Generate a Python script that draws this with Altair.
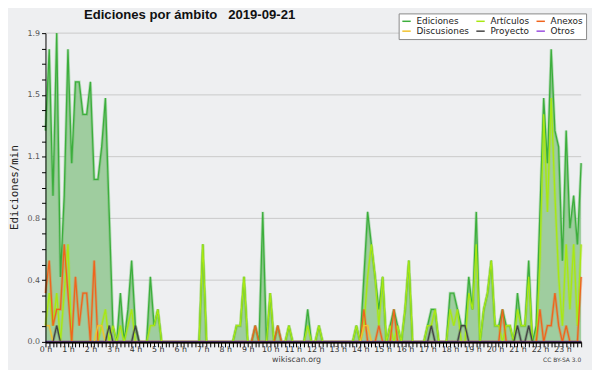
import altair as alt
import pandas as pd

# 10-minute slots of the day (0 = 00:00, 143 = 23:50)
slots = list(range(144))

ediciones = [
    1.3, 1.8, 0.9, 1.9, 0.4, 0.9,   # 0 h
    1.8, 1.1, 1.6, 1.6, 1.4, 1.4,   # 1 h
    1.6, 1.0, 1.0, 1.2, 1.5, 0.8,   # 2 h
    0.1, 0.0, 0.3, 0.0, 0.2, 0.5,   # 3 h
    0.1, 0.0, 0.0, 0.0, 0.4, 0.1,   # 4 h
    0.2, 0.0, 0.0, 0.0, 0.0, 0.0,   # 5 h
    0.0, 0.0, 0.0, 0.0, 0.0, 0.0,   # 6 h
    0.6, 0.0, 0.0, 0.0, 0.0, 0.0,   # 7 h
    0.0, 0.0, 0.0, 0.1, 0.1, 0.4,   # 8 h
    0.0, 0.0, 0.1, 0.0, 0.8, 0.0,   # 9 h
    0.3, 0.0, 0.1, 0.0, 0.0, 0.1,   # 10 h
    0.0, 0.0, 0.0, 0.0, 0.2, 0.0,   # 11 h
    0.0, 0.1, 0.0, 0.0, 0.0, 0.0,   # 12 h
    0.0, 0.0, 0.0, 0.0, 0.0, 0.1,   # 13 h
    0.0, 0.4, 0.8, 0.6, 0.4, 0.2,   # 14 h
    0.4, 0.0, 0.1, 0.2, 0.1, 0.0,   # 15 h
    0.2, 0.5, 0.0, 0.0, 0.0, 0.0,   # 16 h
    0.1, 0.2, 0.2, 0.0, 0.0, 0.0,   # 17 h
    0.3, 0.3, 0.2, 0.1, 0.1, 0.4,   # 18 h
    0.2, 0.8, 0.0, 0.2, 0.3, 0.5,   # 19 h
    0.1, 0.1, 0.2, 0.1, 0.1, 0.0,   # 20 h
    0.3, 0.1, 0.1, 0.5, 0.0, 0.1,   # 21 h
    0.8, 1.5, 1.1, 1.8, 1.3, 1.2,   # 22 h
    0.5, 1.3, 0.7, 0.9, 0.6, 1.1,   # 23 h
]

articulos = [
    0.1, 0.3, 0.1, 0.3, 0.0, 0.3,
    0.6, 0.0, 0.0, 0.0, 0.0, 0.0,
    0.0, 0.0, 0.0, 0.1, 0.2, 0.0,
    0.1, 0.0, 0.1, 0.0, 0.1, 0.2,
    0.0, 0.0, 0.0, 0.0, 0.1, 0.1,
    0.2, 0.0, 0.0, 0.0, 0.0, 0.0,
    0.0, 0.0, 0.0, 0.0, 0.0, 0.0,
    0.6, 0.0, 0.0, 0.0, 0.0, 0.0,
    0.0, 0.0, 0.0, 0.1, 0.1, 0.4,
    0.0, 0.0, 0.0, 0.0, 0.0, 0.0,
    0.3, 0.0, 0.0, 0.0, 0.0, 0.1,
    0.0, 0.0, 0.0, 0.0, 0.1, 0.0,
    0.0, 0.1, 0.0, 0.0, 0.0, 0.0,
    0.0, 0.0, 0.0, 0.0, 0.0, 0.1,
    0.0, 0.1, 0.4, 0.6, 0.4, 0.1,
    0.4, 0.0, 0.1, 0.0, 0.1, 0.0,
    0.2, 0.5, 0.0, 0.0, 0.0, 0.0,
    0.1, 0.1, 0.2, 0.0, 0.0, 0.0,
    0.2, 0.1, 0.2, 0.0, 0.0, 0.3,
    0.2, 0.6, 0.0, 0.2, 0.3, 0.5,
    0.1, 0.1, 0.0, 0.1, 0.1, 0.0,
    0.2, 0.1, 0.1, 0.4, 0.0, 0.0,
    0.5, 1.4, 0.8, 1.5, 0.9, 0.4,
    0.1, 0.6, 0.2, 0.6, 0.1, 0.6,
]

anexos = [
    0.3, 0.5, 0.1, 0.2, 0.2, 0.6,
    0.3, 0.0, 0.4, 0.1, 0.3, 0.3,
    0.0, 0.5, 0.0, 0.0, 0.0, 0.0,
    0.0, 0.0, 0.0, 0.0, 0.0, 0.0,
    0.0, 0.0, 0.0, 0.0, 0.0, 0.0,
    0.0, 0.0, 0.0, 0.0, 0.0, 0.0,
    0.0, 0.0, 0.0, 0.0, 0.0, 0.0,
    0.0, 0.0, 0.0, 0.0, 0.0, 0.0,
    0.0, 0.0, 0.0, 0.0, 0.0, 0.0,
    0.0, 0.0, 0.1, 0.0, 0.0, 0.0,
    0.0, 0.0, 0.1, 0.0, 0.0, 0.0,
    0.0, 0.0, 0.0, 0.0, 0.0, 0.0,
    0.0, 0.0, 0.0, 0.0, 0.0, 0.0,
    0.0, 0.0, 0.0, 0.0, 0.0, 0.0,
    0.0, 0.2, 0.0, 0.0, 0.0, 0.1,
    0.0, 0.0, 0.0, 0.2, 0.0, 0.0,
    0.0, 0.0, 0.0, 0.0, 0.0, 0.0,
    0.0, 0.0, 0.0, 0.0, 0.0, 0.0,
    0.0, 0.0, 0.0, 0.0, 0.0, 0.0,
    0.0, 0.0, 0.0, 0.0, 0.0, 0.0,
    0.0, 0.0, 0.2, 0.0, 0.0, 0.0,
    0.0, 0.0, 0.0, 0.0, 0.0, 0.0,
    0.2, 0.0, 0.1, 0.1, 0.3, 0.1,
    0.0, 0.1, 0.0, 0.0, 0.0, 0.4,
]

discusiones = [
    0.1, 0.1, 0.0, 0.0, 0.0, 0.0,
    0.0, 0.0, 0.0, 0.0, 0.0, 0.0,
    0.0, 0.0, 0.1, 0.1, 0.0, 0.0,
    0.0, 0.0, 0.0, 0.0, 0.0, 0.0,
    0.0, 0.0, 0.0, 0.0, 0.0, 0.0,
    0.0, 0.0, 0.0, 0.0, 0.0, 0.0,
    0.0, 0.0, 0.0, 0.0, 0.0, 0.0,
    0.0, 0.0, 0.0, 0.0, 0.0, 0.0,
    0.0, 0.0, 0.0, 0.0, 0.0, 0.0,
    0.0, 0.0, 0.0, 0.0, 0.0, 0.0,
    0.0, 0.0, 0.0, 0.0, 0.0, 0.0,
    0.0, 0.0, 0.0, 0.0, 0.0, 0.0,
    0.0, 0.0, 0.0, 0.0, 0.0, 0.0,
    0.0, 0.0, 0.0, 0.0, 0.0, 0.0,
    0.0, 0.1, 0.1, 0.0, 0.0, 0.0,
    0.0, 0.0, 0.0, 0.0, 0.0, 0.0,
    0.0, 0.0, 0.0, 0.0, 0.0, 0.0,
    0.0, 0.0, 0.0, 0.0, 0.0, 0.0,
    0.0, 0.0, 0.0, 0.0, 0.0, 0.0,
    0.0, 0.0, 0.0, 0.0, 0.0, 0.0,
    0.0, 0.0, 0.0, 0.0, 0.0, 0.0,
    0.0, 0.0, 0.0, 0.0, 0.0, 0.0,
    0.0, 0.0, 0.0, 0.0, 0.0, 0.0,
    0.0, 0.0, 0.0, 0.0, 0.0, 0.0,
]

proyecto = [
    0.0, 0.0, 0.0, 0.1, 0.0, 0.0,
    0.0, 0.0, 0.0, 0.0, 0.0, 0.0,
    0.0, 0.0, 0.0, 0.0, 0.0, 0.1,
    0.0, 0.0, 0.0, 0.0, 0.0, 0.0,
    0.1, 0.0, 0.0, 0.0, 0.0, 0.0,
    0.0, 0.0, 0.0, 0.0, 0.0, 0.0,
    0.0, 0.0, 0.0, 0.0, 0.0, 0.0,
    0.0, 0.0, 0.0, 0.0, 0.0, 0.0,
    0.0, 0.0, 0.0, 0.0, 0.0, 0.0,
    0.0, 0.0, 0.0, 0.0, 0.0, 0.0,
    0.0, 0.0, 0.0, 0.0, 0.0, 0.0,
    0.0, 0.0, 0.0, 0.0, 0.0, 0.0,
    0.0, 0.0, 0.0, 0.0, 0.0, 0.0,
    0.0, 0.0, 0.0, 0.0, 0.0, 0.0,
    0.0, 0.0, 0.0, 0.0, 0.0, 0.0,
    0.0, 0.0, 0.0, 0.0, 0.0, 0.0,
    0.0, 0.0, 0.0, 0.0, 0.0, 0.0,
    0.0, 0.1, 0.0, 0.0, 0.0, 0.0,
    0.0, 0.0, 0.0, 0.1, 0.1, 0.0,
    0.0, 0.0, 0.0, 0.0, 0.0, 0.0,
    0.0, 0.0, 0.0, 0.0, 0.0, 0.0,
    0.1, 0.0, 0.0, 0.1, 0.0, 0.0,
    0.0, 0.0, 0.0, 0.0, 0.0, 0.0,
    0.0, 0.0, 0.0, 0.0, 0.0, 0.0,
]

otros = [0.0] * 144  # no visible activity

series_names = ["Ediciones", "Artículos", "Anexos", "Discusiones", "Proyecto", "Otros"]
series_colors = ["#3cae3c", "#a8e812", "#f0641c", "#f2c22e", "#444444", "#9b4fe0"]
series_values = [ediciones, articulos, anexos, discusiones, proyecto, otros]

grid_values = [0.38, 0.76, 1.14, 1.52, 1.9]
ytick_values = [round(i * 0.095, 3) for i in range(21)]

title_text = "Ediciones por ámbito\u00a0\u00a0\u00a02019-09-21"
credit_text = "CC BY-SA 3.0"

rows = []
for name, vals in zip(series_names, series_values):
    for s, v in zip(slots, vals):
        rows.append({"slot": s, "serie": name, "valor": v})
df = pd.DataFrame(rows)
df_ed = df[df["serie"] == "Ediciones"]

xscale = alt.Scale(domain=[0, 143], nice=False, zero=False)
yscale = alt.Scale(domain=[0, 1.9], nice=False)

xaxis = alt.Axis(
    values=slots,
    labelExpr="datum.value % 6 == 0 ? (datum.value / 6) + ' h' : ''",
    labelOverlap=False, labelFlush=False,
    tickSize=5, tickColor="black", tickWidth=1,
    domainColor="black", domainWidth=2,
    labelFont="DejaVu Sans", labelFontSize=8, labelColor="#333", labelPadding=-1,
    grid=False, zindex=1,
    titleX=254, titleY=20, titleBaseline="alphabetic", titleAlign="center",
    titleFont="DejaVu Sans", titleFontSize=8, titleFontWeight="normal", titleColor="#444",
)
yaxis = alt.Axis(
    values=ytick_values,
    labelExpr="abs(datum.value / 0.38 - round(datum.value / 0.38)) < 0.01 ? format(datum.value, '.1f') : ''",
    labelOverlap=False, labelFlush=False,
    tickSize=4, tickColor="black", domainColor="black", domainWidth=1,
    labelFont="DejaVu Sans", labelFontSize=8, labelColor="#555", labelPadding=2,
    grid=False, zindex=1,
    titleX=-31, titleY=156, titleAngle=-90, titleAlign="center", titleBaseline="middle",
    titleFont="DejaVu Sans Mono", titleFontSize=11, titleFontWeight="normal", titleColor="#222",
)

def X(field):
    return alt.X(field, scale=xscale, axis=xaxis, title="wikiscan.org")

def Y(field):
    return alt.Y(field, scale=yscale, axis=yaxis, title="Ediciones/min")

color = alt.Color(
    "serie:N",
    scale=alt.Scale(domain=series_names, range=series_colors),
    title=None,
    legend=alt.Legend(
        orient="none", legendX=358, legendY=-20, direction="horizontal",
        columns=3, columnPadding=3, rowPadding=0, padding=3, gridAlign="each",
        fillColor="white", strokeColor="#888",
        symbolType="stroke", symbolSize=72, symbolStrokeWidth=1.5, symbolOpacity=1,
        labelFont="DejaVu Sans", labelFontSize=9, labelColor="#222", labelOffset=5,
    ),
)

grid = alt.Chart(pd.DataFrame({"g": grid_values})).mark_rule(
    color="#c9c9c9", strokeWidth=1
).encode(y=Y("g:Q"))

area = alt.Chart(df_ed).mark_area(color="#9fcd9f", opacity=1).encode(
    x=X("slot:Q"), y=Y("valor:Q")
)

halo = alt.Chart(df).mark_line(strokeWidth=3, opacity=0.3).encode(
    x=X("slot:Q"), y=Y("valor:Q"), color=color
)

lines = alt.Chart(df).mark_line(strokeWidth=1.3).encode(
    x=X("slot:Q"), y=Y("valor:Q"), color=color
)

credit = alt.Chart(pd.DataFrame({"t": [credit_text]})).mark_text(
    align="right", baseline="alphabetic", font="DejaVu Sans", fontSize=6, color="#444"
).encode(text="t:N", x=alt.value(543), y=alt.value(333))

chart = alt.layer(grid, area, halo, lines, credit).properties(
    width=543, height=313,
    title=alt.TitleParams(
        text=title_text, anchor="start", frame="group", dx=39, dy=8, offset=0,
        font="Liberation Sans", fontSize=13.3, fontWeight="bold",
        color="#111",
    ),
    autosize=alt.AutoSizeParams(type="none"),
    padding={"left": 38, "top": 23, "right": 11, "bottom": 26},
).configure(background="#eeeff1").configure_view(stroke=None)

chart.save("out.html", embed_options={"renderer": "svg", "actions": False})
